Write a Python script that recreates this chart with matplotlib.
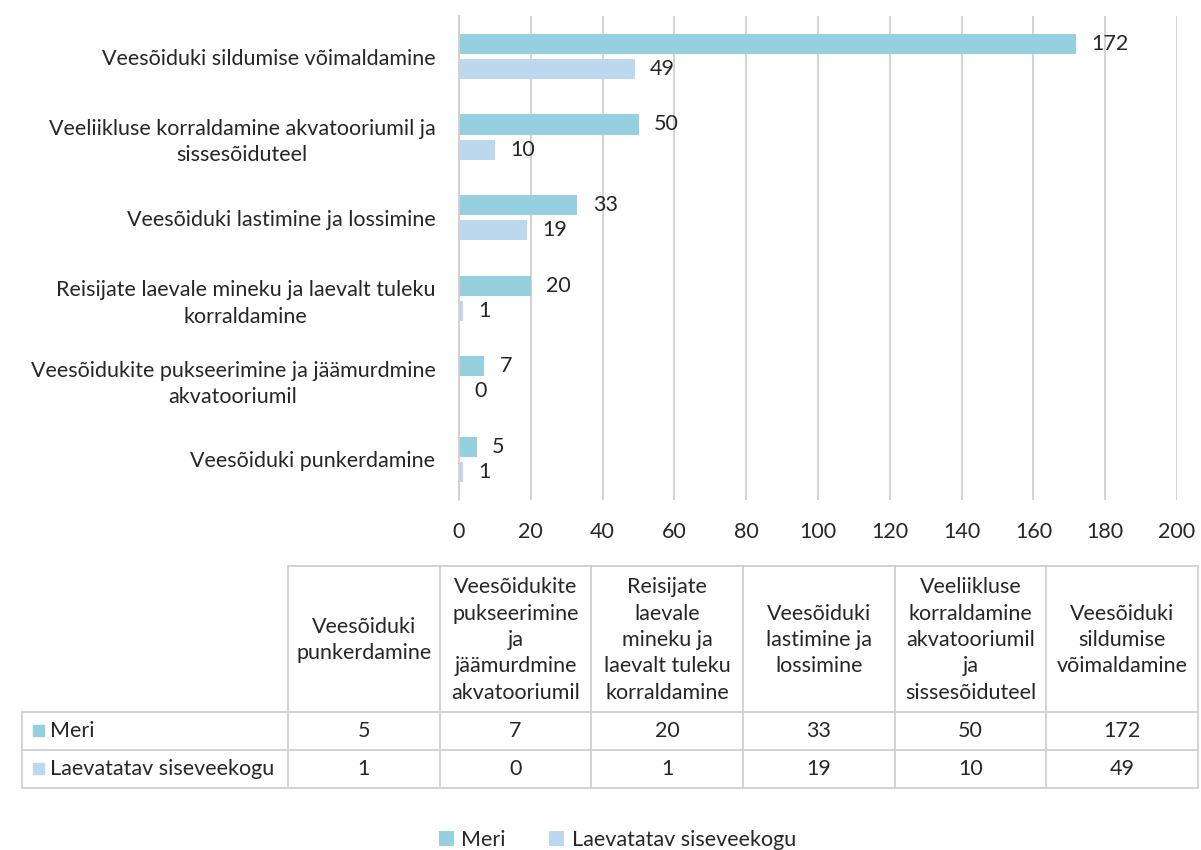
import numpy as np
import matplotlib
matplotlib.use("Agg")
import matplotlib.pyplot as plt
from matplotlib.patches import Rectangle

# data (table order, left to right = bottom to top in the bar chart)
categories = [
    "Veesõiduki punkerdamine",
    "Veesõidukite pukseerimine ja jäämurdmine akvatooriumil",
    "Reisijate laevale mineku ja laevalt tuleku korraldamine",
    "Veesõiduki lastimine ja lossimine",
    "Veeliikluse korraldamine akvatooriumil ja sissesõiduteel",
    "Veesõiduki sildumise võimaldamine",
]
axis_labels = [
    "Veesõiduki punkerdamine",
    "Veesõidukite pukseerimine ja jäämurdmine\nakvatooriumil",
    "Reisijate laevale mineku ja laevalt tuleku\nkorraldamine",
    "Veesõiduki lastimine ja lossimine",
    "Veeliikluse korraldamine akvatooriumil ja\nsissesõiduteel",
    "Veesõiduki sildumise võimaldamine",
]
table_headers = [
    "Veesõiduki\npunkerdamine",
    "Veesõidukite\npukseerimine\nja\njäämurdmine\nakvatooriumil",
    "Reisijate\nlaevale\nmineku ja\nlaevalt tuleku\nkorraldamine",
    "Veesõiduki\nlastimine ja\nlossimine",
    "Veeliikluse\nkorraldamine\nakvatooriumil\nja\nsissesõiduteel",
    "Veesõiduki\nsildumise\nvõimaldamine",
]
series_names = ["Meri", "Laevatatav siseveekogu"]
meri = [5, 7, 20, 33, 50, 172]
sisevesi = [1, 0, 1, 19, 10, 49]
x_ticks = [0, 20, 40, 60, 80, 100, 120, 140, 160, 180, 200]

COL_MERI = "#96D0DE"
COL_SISE = "#BDD7EE"
GRID = "#D0D0D0"
TXT = "#262626"
FS = 15.5

plt.rcParams["font.family"] = ["Lato", "DejaVu Sans"]

fig = plt.figure(figsize=(12.01, 8.5), dpi=100)

# background axes in pixel coordinates for the data table and legend
tax = fig.add_axes([0, 0, 1, 1])
tax.set_xlim(0, 1201)
tax.set_ylim(850, 0)
tax.axis("off")

# main bar chart
ax = fig.add_axes([459 / 1201, 1 - 499.5 / 850, (1177 - 459) / 1201, (499.5 - 16.25) / 850])
ax.patch.set_alpha(0)
y = np.arange(len(categories))
h = 0.25
off = 0.156
b1 = ax.barh(y + off, meri, height=h, color=COL_MERI, zorder=2)
b2 = ax.barh(y - off, sisevesi, height=h, color=COL_SISE, zorder=2)
ax.bar_label(b1, padding=11, fontsize=FS, color=TXT)
ax.bar_label(b2, padding=11, fontsize=FS, color=TXT)

ax.set_xlim(0, 200)
ax.set_ylim(-0.5, len(categories) - 0.5)
ax.set_xticks(x_ticks)
ax.set_yticks(y)
ax.set_yticklabels(axis_labels, fontsize=FS, color=TXT, multialignment="center", linespacing=1.4)
ax.tick_params(axis="x", labelsize=FS, colors=TXT, length=0, pad=16)
ax.tick_params(axis="y", length=0, pad=17)
ax.grid(axis="x", color=GRID, linewidth=1.3, zorder=0)
for s in ["top", "right", "bottom"]:
    ax.spines[s].set_visible(False)
ax.spines["left"].set_color(GRID)
ax.spines["left"].set_linewidth(1.3)

# data table
col_edges = np.linspace(288, 1198, len(categories) + 1)
y_top, y_head, y_mid, y_bot = 566, 712, 750, 788
lab_left = 22
lw = 1.3
tax.plot([col_edges[0], col_edges[-1]], [y_top, y_top], color=GRID, lw=lw)
for yy in (y_head, y_mid, y_bot):
    tax.plot([lab_left, col_edges[-1]], [yy, yy], color=GRID, lw=lw)
for i, xe in enumerate(col_edges):
    tax.plot([xe, xe], [y_top, y_bot], color=GRID, lw=lw)
tax.plot([lab_left, lab_left], [y_head, y_bot], color=GRID, lw=lw)

for i, hdr in enumerate(table_headers):
    cx = (col_edges[i] + col_edges[i + 1]) / 2
    tax.text(cx, (y_top + y_head) / 2 + 1, hdr, ha="center", va="center",
             fontsize=FS, color=TXT, linespacing=1.4)
    tax.text(cx, (y_head + y_mid) / 2, str(meri[i]), ha="center", va="center", fontsize=FS, color=TXT)
    tax.text(cx, (y_mid + y_bot) / 2, str(sisevesi[i]), ha="center", va="center", fontsize=FS, color=TXT)

for (r0, r1), name, col in zip([(y_head, y_mid), (y_mid, y_bot)], series_names, [COL_MERI, COL_SISE]):
    cy = (r0 + r1) / 2
    tax.add_patch(Rectangle((33, cy - 6), 11, 11, color=col))
    tax.text(50, cy, name, ha="left", va="center", fontsize=FS, color=TXT)

# bottom legend
leg = fig.legend([b1, b2], series_names, loc="center", bbox_to_anchor=(0.514, 1 - 840 / 850),
                 ncol=2, frameon=False, fontsize=FS, handlelength=0.7, handleheight=0.7,
                 handletextpad=0.35, columnspacing=2.0, labelcolor=TXT)

fig.savefig("out.png", dpi=100, facecolor="white")
